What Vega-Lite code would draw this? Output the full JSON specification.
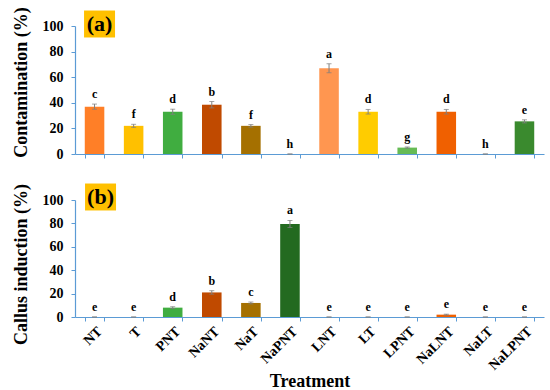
{
  "$schema": "https://vega.github.io/schema/vega-lite/v6.json",
  "autosize": "pad",
  "padding": {"left": 11, "top": 6, "right": 5, "bottom": 2},
  "background": "white",
  "bounds": "flush",
  "spacing": 46,
  "config": {
    "view": {"stroke": null},
    "font": "Liberation Serif",
    "axis": {
      "labelFont": "Liberation Serif", "labelFontWeight": "bold", "labelFontSize": 14, "labelColor": "black", "labelOverlap": false,
      "titleFont": "Liberation Serif", "titleFontWeight": "bold", "titleFontSize": 18, "titleColor": "black",
      "domainColor": "#5B9BD5", "tickColor": "#5B9BD5", "grid": false, "domainWidth": 1.2, "tickWidth": 1
    }
  },
  "datasets": {
    "rows": [
      {"t": "NT", "a": 37, "ae": 2, "ahi": 39, "al": "c", "b": 0, "be": 0, "bhi": 0, "bl": "e"},
      {"t": "T", "a": 22, "ae": 1.2, "ahi": 23.2, "al": "f", "b": 0, "be": 0, "bhi": 0, "bl": "e"},
      {"t": "PNT", "a": 33, "ae": 2, "ahi": 35, "al": "d", "b": 8, "be": 0.8, "bhi": 8.8, "bl": "d"},
      {"t": "NaNT", "a": 38.5, "ae": 2.5, "ahi": 41, "al": "b", "b": 21, "be": 1.5, "bhi": 22.5, "bl": "b"},
      {"t": "NaT", "a": 22, "ae": 1, "ahi": 23, "al": "f", "b": 12, "be": 0.8, "bhi": 12.8, "bl": "c"},
      {"t": "NaPNT", "a": 0, "ae": 0, "ahi": 0, "al": "h", "b": 79.5, "be": 3, "bhi": 82.5, "bl": "a"},
      {"t": "LNT", "a": 67, "ae": 3.5, "ahi": 70.5, "al": "a", "b": 0, "be": 0, "bhi": 0, "bl": "e"},
      {"t": "LT", "a": 33, "ae": 1.8, "ahi": 34.8, "al": "d", "b": 0, "be": 0, "bhi": 0, "bl": "e"},
      {"t": "LPNT", "a": 5, "ae": 0.5, "ahi": 5.5, "al": "g", "b": 0, "be": 0, "bhi": 0, "bl": "e"},
      {"t": "NaLNT", "a": 33, "ae": 1.8, "ahi": 34.8, "al": "d", "b": 2, "be": 0.4, "bhi": 2.4, "bl": "e"},
      {"t": "NaLT", "a": 0, "ae": 0, "ahi": 0, "al": "h", "b": 0, "be": 0, "bhi": 0, "bl": "e"},
      {"t": "NaLPNT", "a": 25.5, "ae": 1.2, "ahi": 26.7, "al": "e", "b": 0, "be": 0, "bhi": 0, "bl": "e"}
    ],
    "tags": [
      {"t": "NT", "a": 100, "lab": "(a)", "b": 100, "labb": "(b)"}
    ]
  },
  "vconcat": [
    {
      "width": 469, "height": 128,
      "encoding": {
        "x": {"field": "t", "type": "nominal", "sort": null,
              "scale": {"paddingInner": 0.5, "paddingOuter": 0.25},
              "axis": {"labels": false, "title": null, "tickBand": "extent", "tickSize": 4}},
        "y": {"field": "a", "type": "quantitative", "scale": {"domain": [0, 100]}, "title": "Contamination (%)",
              "axis": {"values": [0, 20, 40, 60, 80, 100], "tickCount": 6, "labelOverlap": false, "labelFontSize": 14, "titleFontSize": 18, "tickSize": 4, "labelPadding": 8, "titlePadding": 12, "titleY": 56}}
      },
      "layer": [
        {
          "data": {"name": "rows"},
          "mark": {"type": "bar"},
          "encoding": {
            "color": {"field": "t", "type": "nominal", "legend": null,
                      "scale": {"domain": ["NT","T","PNT","NaNT","NaT","NaPNT","LNT","LT","LPNT","NaLNT","NaLT","NaLPNT"],
                                "range": ["#FF7F27","#FFC000","#40AD40","#C04A00","#A57000","#236A20","#FF9650","#FFCC00","#66BB55","#F06000","#2E7D32","#3A8A2E"]}}
          }
        },
        {
          "data": {"name": "rows"},
          "mark": {"type": "errorbar", "ticks": {"size": 5, "color": "#7F7F7F"}, "rule": {"color": "#7F7F7F"}, "thickness": 1},
          "encoding": {
            "yError": {"field": "ae"}
          }
        },
        {
          "data": {"name": "rows"},
          "mark": {"type": "text", "font": "Liberation Serif", "fontWeight": "bold", "fontSize": 12, "baseline": "bottom", "dy": -3},
          "encoding": {
            "y": {"field": "ahi", "type": "quantitative"},
            "text": {"field": "al"}
          }
        },
        {
          "data": {"name": "tags"},
          "mark": {"type": "point", "shape": "M-1,-0.87H1V0.87H-1Z", "filled": true, "color": "#FFC000", "opacity": 1, "size": 961, "xOffset": 5, "yOffset": -2},
          "encoding": {}
        },
        {
          "data": {"name": "tags"},
          "mark": {"type": "text", "font": "Liberation Serif", "fontWeight": "bold", "fontSize": 22, "baseline": "middle", "xOffset": 5, "yOffset": -2},
          "encoding": {
            "text": {"field": "lab"}
          }
        }
      ]
    },
    {
      "width": 469, "height": 117,
      "encoding": {
        "x": {"field": "t", "type": "nominal", "sort": null, "title": "Treatment",
              "scale": {"paddingInner": 0.5, "paddingOuter": 0.25},
              "axis": {"labelAngle": -45, "tickBand": "extent", "tickSize": 4, "labelPadding": 3, "labelFontSize": 14, "titleFontSize": 18, "titleY": 55, "titleBaseline": "top"}},
        "y": {"field": "b", "type": "quantitative", "scale": {"domain": [0, 100]}, "title": "Callus induction (%)",
              "axis": {"values": [0, 20, 40, 60, 80, 100], "tickCount": 6, "labelOverlap": false, "labelFontSize": 14, "titleFontSize": 18, "tickSize": 4, "labelPadding": 8, "titlePadding": 12, "titleY": 64}}
      },
      "layer": [
        {
          "data": {"name": "rows"},
          "mark": {"type": "bar"},
          "encoding": {
            "color": {"field": "t", "type": "nominal", "legend": null,
                      "scale": {"domain": ["NT","T","PNT","NaNT","NaT","NaPNT","LNT","LT","LPNT","NaLNT","NaLT","NaLPNT"],
                                "range": ["#FF7F27","#FFC000","#40AD40","#C04A00","#A57000","#236A20","#FF9650","#FFCC00","#66BB55","#F06000","#2E7D32","#3A8A2E"]}}
          }
        },
        {
          "data": {"name": "rows"},
          "mark": {"type": "errorbar", "ticks": {"size": 5, "color": "#7F7F7F"}, "rule": {"color": "#7F7F7F"}, "thickness": 1},
          "encoding": {
            "yError": {"field": "be"}
          }
        },
        {
          "data": {"name": "rows"},
          "mark": {"type": "text", "font": "Liberation Serif", "fontWeight": "bold", "fontSize": 12, "baseline": "bottom", "dy": -3},
          "encoding": {
            "y": {"field": "bhi", "type": "quantitative"},
            "text": {"field": "bl"}
          }
        },
        {
          "data": {"name": "tags"},
          "mark": {"type": "point", "shape": "M-1,-0.87H1V0.87H-1Z", "filled": true, "color": "#FFC000", "opacity": 1, "size": 961, "xOffset": 6, "yOffset": -3},
          "encoding": {}
        },
        {
          "data": {"name": "tags"},
          "mark": {"type": "text", "font": "Liberation Serif", "fontWeight": "bold", "fontSize": 22, "baseline": "middle", "xOffset": 6, "yOffset": -3},
          "encoding": {
            "text": {"field": "labb"}
          }
        }
      ]
    }
  ]
}
